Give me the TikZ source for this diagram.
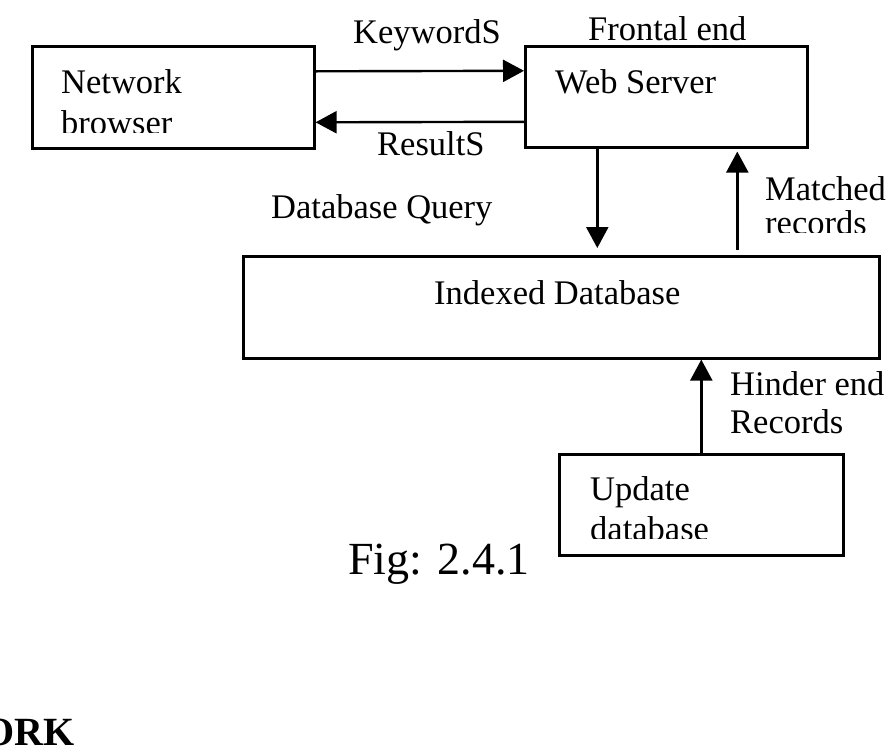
\documentclass[tikz,border=0pt]{standalone}
\usepackage{fontspec}
\setmainfont{Liberation Serif}
\usetikzlibrary{arrows.meta}
\tikzset{
  box/.style={draw, line width=2.6pt, inner sep=0pt, anchor=north west},
  lbl/.style={inner sep=0pt, anchor=base west, font=\fontsize{34.5}{40}\selectfont},
  flow/.style={line width=2.4pt, -{Triangle[length=21pt,width=22pt]}}
}

\begin{document}
\begin{tikzpicture}[x=1pt, y=-1pt]
			%%%%% START %%%%%
			\useasboundingbox (0,0) rectangle (888,753);
			
			\node[box, minimum width=282pt, minimum height=102pt] (nb) at (31,45) {};
			\node[box, minimum width=282pt, minimum height=101pt] (ws) at (524,45) {};
			\node[box, minimum width=636pt, minimum height=102pt] (idb) at (242,255) {};
			\node[box, minimum width=284pt, minimum height=101pt] (ud) at (558,453) {};
			
			\node[lbl] (nbt) at (61,93) {Network};
			\begin{scope}
			\clip (31,45) rectangle (313,132);
			\node[lbl] (nbt2) at (61,134) {browser};
			\end{scope}
			\node[lbl] (wst) at (555,93) {Web Server};
			\node[lbl] (idbt) at (434,304) {Indexed Database};
			\node[lbl] (udt) at (590,500) {Update};
			\begin{scope}
			\clip (558,453) rectangle (842,538);
			\node[lbl] (udt2) at (590,540) {database};
			\end{scope}
			
			\node[lbl] (kw) at (353,43) {KeywordS};
			\node[lbl] (rs) at (377,155) {ResultS};
			\node[lbl] (fe) at (588,40) {Frontal end};
			\node[lbl] (dq) at (271,218) {Database Query};
			\node[lbl] (mr) at (765,200) {Matched};
			\begin{scope}
			\clip (740,150) rectangle (888,232);
			\node[lbl] (mr2) at (765,234) {records};
			\end{scope}
			\node[lbl] (he) at (730,395) {Hinder end};
			\node[lbl] (hr) at (730,433) {Records};
			
			\draw[flow] ([yshift=26pt]nb.east) -- ([yshift=26pt]ws.west);
			\draw[flow] ([yshift=-25pt]ws.west) -- ([yshift=-25pt]nb.east);
			\draw[flow, shorten >=7pt] ([xshift=-69pt]ws.south) -- ([xshift=-69pt]ws.south |- idb.north);
			\draw[flow, shorten <=5pt, shorten >=3pt] ([xshift=71pt]ws.south |- idb.north) -- ([xshift=71pt]ws.south);
			\draw[flow] (ud.north) -- (ud.north |- idb.south);
			
			\node[inner sep=0pt, anchor=base west, font=\fontsize{46}{50}\selectfont] (fig) at (348,574) {Fig: 2.4.1};
			\node[inner sep=0pt, anchor=base east, font=\fontsize{40}{44}\selectfont\bfseries] (ork) at (75,745) {ORK};
			
			%%%%% END %%%%%
\end{tikzpicture}
\end{document}
